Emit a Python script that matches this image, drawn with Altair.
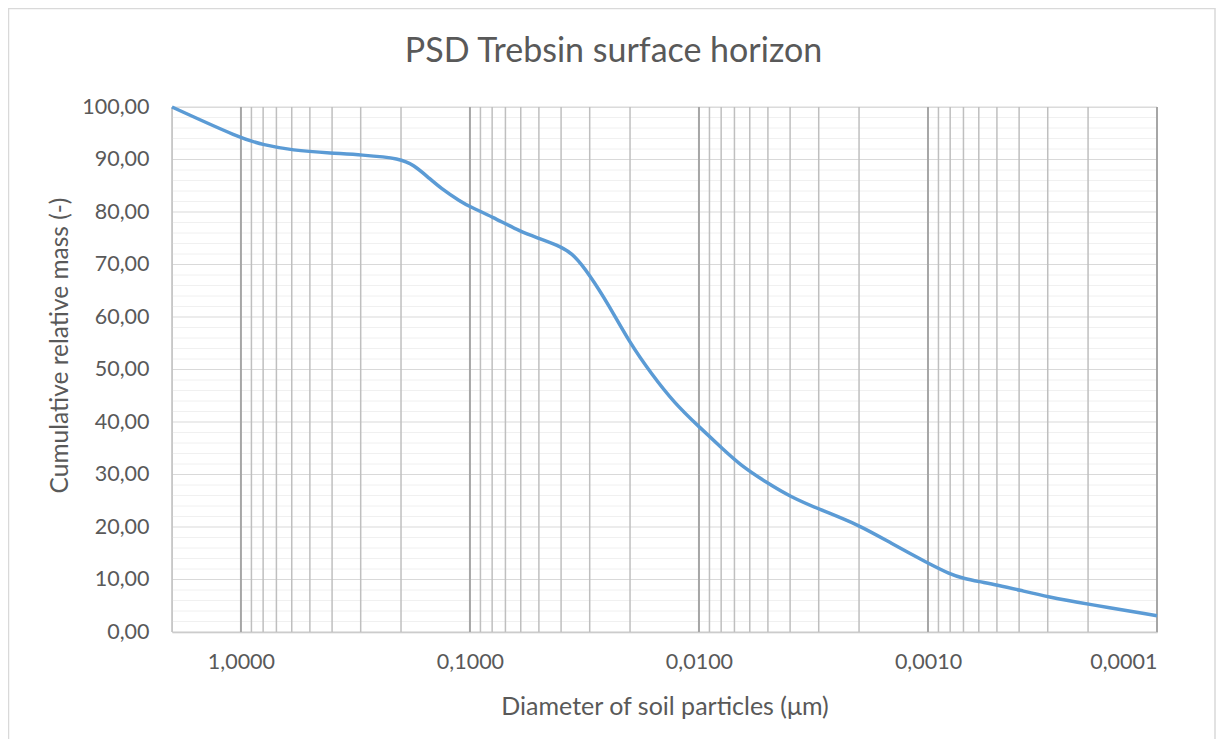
import altair as alt
import pandas as pd

# ---- data ----
diameter = [2.0, 1.0, 0.8, 0.6, 0.4, 0.3, 0.2, 0.176, 0.153, 0.134, 0.11, 0.1,
            0.08, 0.06, 0.05, 0.04, 0.035, 0.03, 0.025, 0.02, 0.0162, 0.0128,
            0.01, 0.0078, 0.0066, 0.005, 0.004, 0.003, 0.002, 0.00145, 0.001,
            0.0008, 0.0007, 0.0006, 0.0005, 0.0004, 0.0003, 0.0002, 0.0001]
mass = [100.0, 94.0, 92.8, 91.75, 91.2, 90.9, 90.2, 88.9, 86.7, 84.5, 82.0, 81.0,
        79.1, 76.2, 75.0, 73.4, 71.8, 68.0, 62.6, 55.0, 49.3, 43.6,
        39.1, 34.7, 31.8, 28.3, 25.8, 23.4, 20.4, 16.9, 13.1,
        11.0, 10.2, 9.6, 8.95, 8.0, 6.7, 5.3, 3.1]

x_major = [1.0, 0.1, 0.01, 0.001, 0.0001]
x_minor = [2.0,
           0.9, 0.8, 0.7, 0.6, 0.5, 0.4, 0.3, 0.2,
           0.09, 0.08, 0.07, 0.06, 0.05, 0.04, 0.03, 0.02,
           0.009, 0.008, 0.007, 0.006, 0.005, 0.004, 0.003, 0.002,
           0.0009, 0.0008, 0.0007, 0.0006, 0.0005, 0.0004, 0.0003, 0.0002]
y_major = [0, 10, 20, 30, 40, 50, 60, 70, 80, 90, 100]
y_minor = [2, 4, 6, 8, 12, 14, 16, 18, 22, 24, 26, 28, 32, 34, 36, 38,
           42, 44, 46, 48, 52, 54, 56, 58, 62, 64, 66, 68, 72, 74, 76, 78,
           82, 84, 86, 88, 92, 94, 96, 98]

W, H = 985, 525
FONT = "Lato"
TXT = "#595959"

df = pd.DataFrame({"d": diameter, "m": mass})
xs = alt.Scale(type="log", domain=[0.0001, 2.0], reverse=True, nice=False)
ys = alt.Scale(domain=[0, 100], nice=False)

xaxis = alt.Axis(values=x_major, title="Diameter of soil particles (\u03bcm)",
                 labelExpr="replace(format(datum.value, '.4f'), '.', ',')",
                 grid=False, ticks=False, domain=True, domainColor="#bfbfbf",
                 domainWidth=1.5, labelPadding=19, labelFontSize=21.5,
                 labelFont=FONT, labelColor=TXT, titleFont=FONT,
                 titleFontSize=25, titleColor=TXT, titleFontWeight="normal",
                 titleBaseline="middle", titleY=74)
yaxis = alt.Axis(values=y_major, title="Cumulative relative mass (-)",
                 labelExpr="replace(format(datum.value, '.2f'), '.', ',')",
                 grid=False, ticks=False, domain=False, labelPadding=23,
                 labelFontSize=21.5, labelFont=FONT, labelColor=TXT,
                 titleFont=FONT, titleFontSize=24.5, titleColor=TXT,
                 titleFontWeight="normal", titleBaseline="middle",
                 titleX=-112, titleY=238)

hmin = alt.Chart(pd.DataFrame({"v": y_minor})).mark_rule(
    color="#f0f0f0", strokeWidth=1).encode(y=alt.Y("v:Q", scale=ys, axis=yaxis))
hmaj = alt.Chart(pd.DataFrame({"v": y_major})).mark_rule(
    color="#d9d9d9", strokeWidth=1.2).encode(y=alt.Y("v:Q", scale=ys, axis=yaxis))
vmin = alt.Chart(pd.DataFrame({"v": x_minor})).mark_rule(
    color="#bfbfbf", strokeWidth=1.5).encode(x=alt.X("v:Q", scale=xs, axis=xaxis))
vmaj = alt.Chart(pd.DataFrame({"v": x_major})).mark_rule(
    color="#a6a6a6", strokeWidth=2).encode(x=alt.X("v:Q", scale=xs, axis=xaxis))

line = alt.Chart(df).mark_line(
    color="#5b9bd5", strokeWidth=3.5, interpolate="basis").encode(
    x=alt.X("d:Q", scale=xs, axis=xaxis),
    y=alt.Y("m:Q", scale=ys, axis=yaxis),
)

border = alt.Chart(pd.DataFrame({"k": [0]})).mark_rect(
    fill=None, stroke="#d9d9d9", strokeWidth=1.5).encode(
    x=alt.value(-163.5), x2=alt.value(W + 58), y=alt.value(-98.5), y2=alt.value(H + 300))

chart = alt.layer(hmin, hmaj, vmin, vmaj, line, border).properties(
    width=W, height=H,
    title=alt.Title("PSD Trebsin surface horizon", font=FONT, fontSize=34,
                    color=TXT, fontWeight="normal", anchor="middle", dx=-51,
                    offset=0, dy=88, baseline="alphabetic", frame="group"),
    autosize=alt.AutoSizeParams(type="none"),
    padding={"left": 164, "top": 99, "right": 59, "bottom": 107},
).configure_view(stroke=None).configure(background="white")

chart.save("out.html", embed_options={"renderer": "svg", "actions": False})
